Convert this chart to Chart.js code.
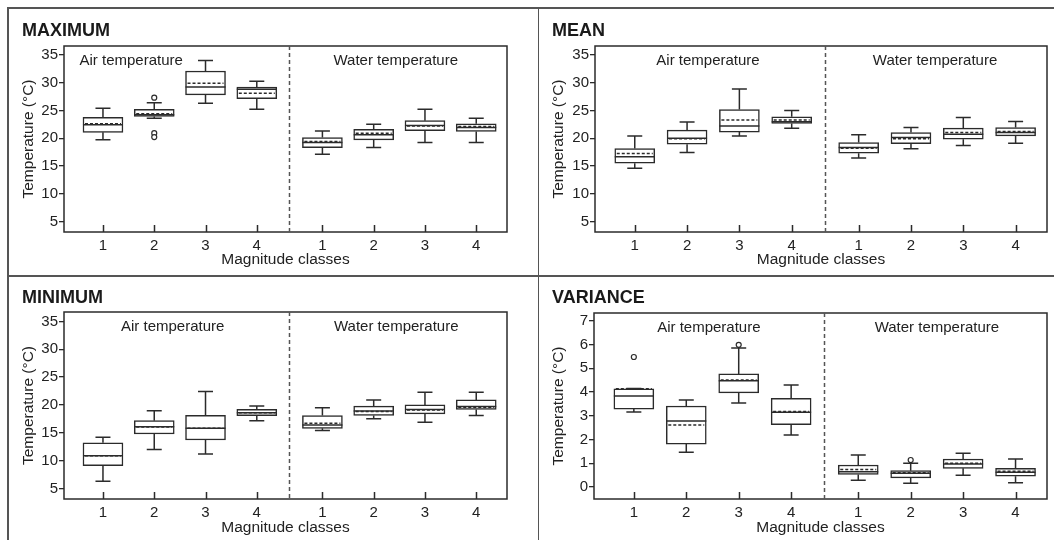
<!DOCTYPE html>
<html>
<head>
<meta charset="utf-8">
<script src="https://cdn.jsdelivr.net/npm/chart.js@4/dist/chart.umd.min.js"></script>
<style>
body { margin: 0; background: #fff; font-family: "Liberation Sans", Arial, sans-serif; }
#page { position: relative; width: 1054px; height: 540px; overflow: hidden; background: #fff; }
.panel { position: absolute; }
.panel canvas { display: block; }
.ptitle { position: absolute; font-weight: bold; font-size: 18px; line-height: 18px; color: #1a1a1a; }
.rule { position: absolute; background: #555; }
</style>
</head>
<body>
<div id="page">
  <div class="panel" style="left:8px;top:8px;"><canvas id="maxChart" width="530" height="268"></canvas></div>
  <div class="panel" style="left:538px;top:8px;"><canvas id="meanChart" width="516" height="268"></canvas></div>
  <div class="panel" style="left:8px;top:276px;"><canvas id="minChart" width="530" height="264"></canvas></div>
  <div class="panel" style="left:538px;top:276px;"><canvas id="varChart" width="516" height="264"></canvas></div>

  <div class="ptitle" style="left:22px;top:21px;">MAXIMUM</div>
  <div class="ptitle" style="left:552px;top:21px;">MEAN</div>
  <div class="ptitle" style="left:22px;top:288px;">MINIMUM</div>
  <div class="ptitle" style="left:552px;top:288px;">VARIANCE</div>

  <div class="rule" style="left:7px;top:7px;width:1047px;height:1.5px;"></div>
  <div class="rule" style="left:7px;top:7px;width:1.5px;height:533px;"></div>
  <div class="rule" style="left:537.5px;top:7px;width:1.5px;height:533px;"></div>
  <div class="rule" style="left:7px;top:275px;width:1047px;height:1.5px;"></div>
</div>

<script>
// DATA #######################################################################

var classes = ["1", "2", "3", "4"];
var groups = ["Air temperature", "Water temperature"];
var tempTicks = [5, 10, 15, 20, 25, 30, 35];
var varTicks = [0, 1, 2, 3, 4, 5, 6, 7];

// boxes in order: air 1-4, water 1-4
var maxLow  = [19.7, 23.6, 26.3, 25.2, 17.1, 18.3, 19.2, 19.2];
var maxQ1   = [21.05, 23.9, 27.8, 27.1, 18.3, 19.7, 21.35, 21.2];
var maxMed  = [22.4, 24.2, 29.2, 28.8, 19.2, 20.6, 22.3, 21.9];
var maxMean = [22.6, 24.4, 29.9, 28.1, 19.4, 20.9, 22.2, 22.1];
var maxQ3   = [23.75, 25.2, 32.1, 29.2, 20.1, 21.6, 23.15, 22.6];
var maxHigh = [25.4, 26.4, 34.0, 30.25, 21.3, 22.5, 25.2, 23.6];
var maxOutBox = [1, 1, 1];
var maxOutVal = [27.3, 20.9, 20.2];

var meanLow  = [14.6, 17.4, 20.4, 21.8, 16.45, 18.1, 18.7, 19.1];
var meanQ1   = [15.5, 18.9, 21.1, 22.65, 17.3, 19.0, 19.8, 20.4];
var meanMed  = [16.66, 20.0, 22.2, 22.95, 18.3, 20.1, 20.7, 21.0];
var meanMean = [17.25, 19.9, 23.25, 23.25, 18.2, 19.9, 21.0, 21.2];
var meanQ3   = [18.13, 21.46, 25.16, 23.85, 19.2, 21.0, 21.8, 21.9];
var meanHigh = [20.4, 22.9, 28.86, 24.98, 20.6, 21.9, 23.7, 23.0];
var meanOutBox = [];
var meanOutVal = [];

var minLow  = [6.3, 12.0, 11.18, 17.17, 15.4, 17.5, 16.9, 18.1];
var minQ1   = [9.07, 14.78, 13.7, 18.07, 15.8, 18.1, 18.4, 19.2];
var minMed  = [10.87, 16.1, 15.8, 18.6, 16.4, 18.9, 19.2, 19.7];
var minMean = [10.87, 16.05, 15.8, 18.6, 16.7, 18.8, 19.1, 19.6];
var minQ3   = [13.2, 17.17, 18.14, 19.2, 18.1, 19.8, 20.0, 20.9];
var minHigh = [14.18, 18.97, 22.4, 19.8, 19.5, 20.9, 22.3, 22.3];
var minOutBox = [];
var minOutVal = [];

var varLow  = [3.16, 1.47, 3.54, 2.19, 0.29, 0.16, 0.5, 0.18];
var varQ1   = [3.28, 1.81, 3.96, 2.62, 0.53, 0.39, 0.79, 0.46];
var varMed  = [3.83, 2.78, 4.47, 3.15, 0.65, 0.58, 0.97, 0.62];
var varMean = [4.13, 2.61, 4.5, 3.18, 0.74, 0.6, 1.0, 0.67];
var varQ3   = [4.13, 3.41, 4.76, 3.73, 0.93, 0.69, 1.18, 0.79];
var varHigh = [4.15, 3.66, 5.85, 4.29, 1.35, 1.0, 1.42, 1.18];
var varOutBox = [0, 2, 5];
var varOutVal = [5.47, 5.98, 1.14];

// SETUP ######################################################################

var LINE = "#2b2b2b";
var TEXT = "#222";
var FONT = "'Liberation Sans', Arial, sans-serif";
var LW = 1.5;
var groupStep = 4.28;   // distance between air and water class 1
var dividerAt = 4.63;

function boxPositions() {
    var pos = [];
    groups.forEach(function (g, gi) {
        classes.forEach(function (c, ci) {
            pos.push(1 + ci + gi * groupStep);
        });
    });
    return pos;
}

var boxExtras = {
    id: "boxExtras",
    afterDatasetsDraw: function (chart, args, opts) {
        var ctx = chart.ctx;
        var area = chart.chartArea;
        var xs = chart.scales.x;
        var ys = chart.scales.y;
        var s = opts.series;
        var bars = chart.getDatasetMeta(0).data;

        ctx.save();
        ctx.strokeStyle = LINE;
        ctx.lineWidth = LW;

        // frame
        ctx.strokeRect(area.left, area.top, area.right - area.left, area.bottom - area.top);

        // inward x ticks
        ctx.beginPath();
        xs.ticks.forEach(function (t) {
            var px = Math.round(xs.getPixelForValue(t.value)) + 0.5;
            ctx.moveTo(px, area.bottom);
            ctx.lineTo(px, area.bottom - 7);
        });
        ctx.stroke();

        // divider
        ctx.save();
        ctx.setLineDash([4, 3]);
        ctx.strokeStyle = "#555";
        ctx.beginPath();
        var dx = Math.round(xs.getPixelForValue(dividerAt)) + 0.5;
        ctx.moveTo(dx, area.top);
        ctx.lineTo(dx, area.bottom);
        ctx.stroke();
        ctx.restore();

        // whiskers, caps, medians
        bars.forEach(function (bar, i) {
            var cx = bar.x;
            var half = bar.width / 2;
            var yLo = ys.getPixelForValue(s.low[i]);
            var yQ1 = ys.getPixelForValue(s.q1[i]);
            var yQ3 = ys.getPixelForValue(s.q3[i]);
            var yHi = ys.getPixelForValue(s.high[i]);
            ctx.beginPath();
            ctx.moveTo(cx, yQ3); ctx.lineTo(cx, yHi);
            ctx.moveTo(cx - 7.5, yHi); ctx.lineTo(cx + 7.5, yHi);
            ctx.moveTo(cx, yQ1); ctx.lineTo(cx, yLo);
            ctx.moveTo(cx - 7.5, yLo); ctx.lineTo(cx + 7.5, yLo);
            var yMed = ys.getPixelForValue(s.med[i]);
            ctx.moveTo(cx - half, yMed); ctx.lineTo(cx + half, yMed);
            ctx.stroke();
        });

        // means
        ctx.save();
        ctx.setLineDash([3, 2]);
        bars.forEach(function (bar, i) {
            var half = bar.width / 2;
            var yMean = ys.getPixelForValue(s.mean[i]);
            ctx.beginPath();
            ctx.moveTo(bar.x - half + 2, yMean);
            ctx.lineTo(bar.x + half - 2, yMean);
            ctx.stroke();
        });
        ctx.restore();

        // group labels
        ctx.fillStyle = TEXT;
        ctx.font = "15px " + FONT;
        ctx.textAlign = "center";
        ctx.textBaseline = "middle";
        groups.forEach(function (g, gi) {
            ctx.fillText(g, xs.getPixelForValue(opts.labelAt[gi]), area.top + 15);
        });
        ctx.restore();
    }
};

function makeBoxChart(id, s) {
    var pos = boxPositions();
    var boxes = pos.map(function (x, i) {
        return { x: x, y: [s.q1[i], s.q3[i]] };
    });
    var outliers = s.outBox.map(function (b, i) {
        return { x: pos[b], y: s.outVal[i] };
    });

    return new Chart(document.getElementById(id), {
        type: "bar",
        data: {
            datasets: [
                {
                    type: "bar",
                    data: boxes,
                    backgroundColor: "#fff",
                    borderColor: LINE,
                    borderWidth: LW,
                    borderSkipped: false,
                    barThickness: 40
                },
                {
                    type: "scatter",
                    data: outliers,
                    pointRadius: 2.5,
                    pointBackgroundColor: "#fff",
                    pointBorderColor: LINE,
                    pointBorderWidth: 1.2
                }
            ]
        },
        options: {
            responsive: false,
            animation: false,
            layout: { padding: { top: s.padTop, right: s.padRight, bottom: 0, left: 0 } },
            plugins: {
                legend: { display: false },
                tooltip: { enabled: false },
                boxExtras: { series: s, labelAt: s.labelAt }
            },
            scales: {
                x: {
                    type: "linear",
                    min: 0.24,
                    max: 8.88,
                    offset: false,
                    grid: { display: false, drawTicks: false },
                    border: { display: false },
                    afterBuildTicks: function (scale) {
                        scale.ticks = pos.map(function (v) { return { value: v }; });
                    },
                    afterFit: function (scale) { scale.height = s.xHeight; },
                    ticks: {
                        autoSkip: false,
                        maxRotation: 0,
                        padding: 5,
                        color: TEXT,
                        font: { family: FONT, size: 15 },
                        callback: function (v, i) { return classes[i % classes.length]; }
                    },
                    title: {
                        display: true,
                        text: "Magnitude classes",
                        color: TEXT,
                        font: { family: FONT, size: 15.5 },
                        padding: { top: 0, bottom: s.xTitlePad }
                    }
                },
                y: {
                    min: s.yMin,
                    max: s.yMax,
                    grid: { drawOnChartArea: false, drawTicks: true, tickLength: 5, color: LINE, lineWidth: 1.3 },
                    border: { display: false },
                    afterBuildTicks: function (scale) {
                        scale.ticks = s.ticks.map(function (v) { return { value: v }; });
                    },
                    afterFit: function (scale) { scale.width = s.yWidth; },
                    ticks: {
                        padding: 1,
                        color: TEXT,
                        font: { family: FONT, size: 15 }
                    },
                    title: {
                        display: true,
                        text: "Temperature (°C)",
                        color: TEXT,
                        font: { family: FONT, size: 15.5 },
                        padding: { top: 11.5, bottom: 0 }
                    }
                }
            }
        },
        plugins: [boxExtras]
    });
}

// CHARTS #####################################################################

makeBoxChart("maxChart", {
    low: maxLow, q1: maxQ1, med: maxMed, mean: maxMean, q3: maxQ3, high: maxHigh,
    outBox: maxOutBox, outVal: maxOutVal, ticks: tempTicks,
    yMin: 3.1, yMax: 36.6, yWidth: 56, xHeight: 44, xTitlePad: 7,
    padTop: 38, padRight: 31, labelAt: [1.55, 6.71]
});

makeBoxChart("meanChart", {
    low: meanLow, q1: meanQ1, med: meanMed, mean: meanMean, q3: meanQ3, high: meanHigh,
    outBox: meanOutBox, outVal: meanOutVal, ticks: tempTicks,
    yMin: 3.1, yMax: 36.6, yWidth: 57, xHeight: 44, xTitlePad: 7,
    padTop: 38, padRight: 7, labelAt: [2.4, 6.74]
});

makeBoxChart("minChart", {
    low: minLow, q1: minQ1, med: minMed, mean: minMean, q3: minQ3, high: minHigh,
    outBox: minOutBox, outVal: minOutVal, ticks: tempTicks,
    yMin: 3.1, yMax: 36.7, yWidth: 56, xHeight: 41, xTitlePad: 3,
    padTop: 36, padRight: 31, labelAt: [2.36, 6.72]
});

makeBoxChart("varChart", {
    low: varLow, q1: varQ1, med: varMed, mean: varMean, q3: varQ3, high: varHigh,
    outBox: varOutBox, outVal: varOutVal, ticks: varTicks,
    yMin: -0.5, yMax: 7.32, yWidth: 56, xHeight: 41, xTitlePad: 3,
    padTop: 37, padRight: 7, labelAt: [2.43, 6.78]
});
</script>
</body>
</html>
